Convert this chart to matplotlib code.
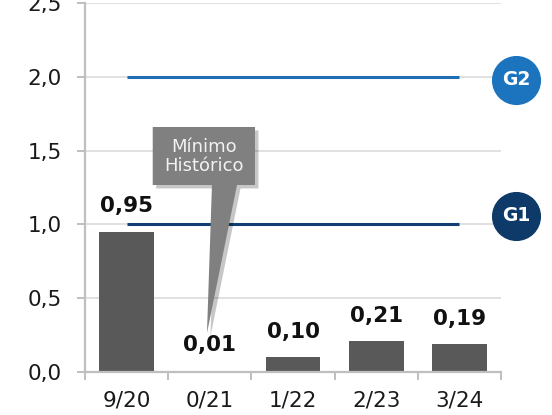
import matplotlib
matplotlib.use("Agg")
import matplotlib.pyplot as plt
from matplotlib.patches import Polygon
import matplotlib.patheffects as pe

categories = ["9/20", "0/21", "1/22", "2/23", "3/24"]
values = [0.95, 0.01, 0.10, 0.21, 0.19]
value_labels = ["0,95", "0,01", "0,10", "0,21", "0,19"]
yticks = [0.0, 0.5, 1.0, 1.5, 2.0, 2.5]
ytick_labels = ["0,0", "0,5", "1,0", "1,5", "2,0", "2,5"]
g1_level = 1.0
g2_level = 2.0
callout_text = "Mínimo\nHistórico"

plt.rcParams['font.family'] = ['DejaVu Sans']

fig = plt.figure(figsize=(5.52, 4.15), dpi=100)
ax = fig.add_axes([85/552, 43/415, 416/552, 369/415])

x = list(range(len(categories)))
ax.bar(x, values, width=0.66, color="#595959", zorder=3)

ax.set_xlim(-0.5, 4.5)
ax.set_ylim(0, 2.5)

# grid
for y in yticks[1:]:
    ax.axhline(y, color="#d9d9d9", lw=1.1, zorder=1)

# goal lines
ax.plot([0, 4], [g2_level, g2_level], color="#1f6db3", lw=2.2, zorder=2, solid_capstyle='butt')
ax.plot([0, 4], [g1_level, g1_level], color="#123f73", lw=2.2, zorder=2, solid_capstyle='butt')

# spines
for s in ["top", "right"]:
    ax.spines[s].set_visible(False)
for s in ["left", "bottom"]:
    ax.spines[s].set_color("#bfbfbf")
    ax.spines[s].set_linewidth(1.6)
    ax.spines[s].set_zorder(4)

ax.set_yticks(yticks)
ax.set_yticklabels(ytick_labels, fontsize=15.5, color="#1a1a1a")
ax.tick_params(axis='y', length=6, width=1.4, color="#bfbfbf", pad=10.5)

ax.set_xticks([i - 0.5 for i in range(len(categories) + 1)])
ax.set_xticklabels([])
ax.tick_params(axis='x', which='major', length=6, width=1.4, color="#bfbfbf")
ax.set_xticks(x, minor=True)
ax.set_xticklabels(categories, minor=True, fontsize=15.5, color="#1a1a1a")
ax.tick_params(axis='x', which='minor', length=0, pad=13)

# value labels
for xi, v, lab in zip(x, values, value_labels):
    ax.annotate(lab, (xi, v), xytext=(0, 14), textcoords='offset points',
                ha='center', va='baseline', fontsize=15.5, fontweight='bold',
                color="#111111", zorder=5)

# badges
ax.scatter([4.68], [g2_level - 0.02], s=1250, color="#1b74bd", clip_on=False, zorder=6, linewidths=0)
ax.text(4.68, g2_level - 0.02, "G2", ha='center', va='center', fontsize=13.5,
        fontweight='bold', color='white', zorder=7, clip_on=False)
ax.scatter([4.68], [g1_level + 0.06], s=1250, color="#0e3a69", clip_on=False, zorder=6, linewidths=0)
ax.text(4.68, g1_level + 0.06, "G1", ha='center', va='center', fontsize=13.5,
        fontweight='bold', color='white', zorder=7, clip_on=False)

# callout
verts = [(0.314, 1.660), (1.543, 1.660), (1.543, 1.267), (1.327, 1.267),
         (0.966, 0.264), (1.026, 1.267), (0.314, 1.267)]
poly = Polygon(verts, closed=True, facecolor="#808080", edgecolor='none', zorder=8,
               path_effects=[pe.SimplePatchShadow(offset=(2.5, -2.5), shadow_rgbFace='#000000', alpha=0.22), pe.Normal()])
ax.add_patch(poly)
ax.text(0.93, 1.46, callout_text, ha='center', va='center', fontsize=13,
        color="#f2f2f2", zorder=9, linespacing=1.1)

fig.savefig("out.png", dpi=100)
